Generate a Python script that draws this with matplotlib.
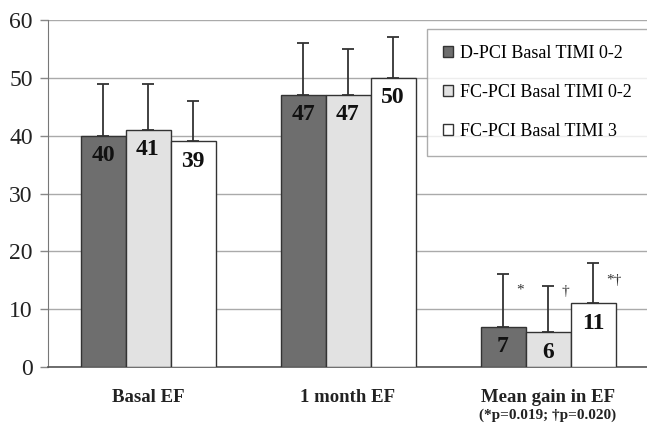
import matplotlib
matplotlib.use("Agg")
import matplotlib.pyplot as plt
import numpy as np

categories = ["Basal EF", "1 month EF", "Mean gain in EF"]
series_names = ["D-PCI Basal TIMI 0-2", "FC-PCI Basal TIMI 0-2", "FC-PCI Basal TIMI 3"]
values = {
    "D-PCI Basal TIMI 0-2": [40, 47, 7],
    "FC-PCI Basal TIMI 0-2": [41, 47, 6],
    "FC-PCI Basal TIMI 3": [39, 50, 11],
}
errors = {
    "D-PCI Basal TIMI 0-2": [9, 9, 9],
    "FC-PCI Basal TIMI 0-2": [8, 8, 8],
    "FC-PCI Basal TIMI 3": [7, 7, 7],
}
sig_marks = ["*", "\u2020", "*\u2020"]
sig_y = [13.3, 13.0, 15.0]
yticks = [0, 10, 20, 30, 40, 50, 60]
colors = ["#6e6e6e", "#e2e2e2", "#ffffff"]

plt.rcParams['font.family'] = ['Liberation Serif', 'DejaVu Serif']

W, H = 647, 429
fig = plt.figure(figsize=(W/100, H/100), dpi=100)
ax = fig.add_axes([48/W, 1-367/H, 600/W, 347/H])

x = np.arange(len(categories))
w = 0.225
offsets = [-w, 0, w]
for i, name in enumerate(series_names):
    vals = values[name]
    errs = errors[name]
    ax.bar(x + offsets[i], vals, w, color=colors[i], edgecolor="#333333",
           linewidth=1.0, zorder=3, label=name)
    ax.errorbar(x + offsets[i], vals, yerr=[np.zeros(len(vals)), errs], fmt="none",
                ecolor="#333333", elinewidth=1.3, capsize=4, capthick=1.3, zorder=2)
    for xi, v in zip(x + offsets[i], vals):
        ax.text(xi, v - 1.6, str(v), ha="center", va="top", fontsize=17,
                fontweight="bold", color="#111111", zorder=4)

# significance marks on the gain group
gx = x[2]
for i, m in enumerate(sig_marks):
    ax.text(gx + offsets[i] + w * 0.3, sig_y[i], m,
            ha="left", va="center", fontsize=11, color="#333333")

ax.set_xlim(-0.5, 2.5)
ax.set_ylim(0, 60)
ax.set_yticks(yticks)
ax.set_yticklabels([str(t) for t in yticks], fontsize=17, color="#222222")
ax.tick_params(axis="y", length=6, color="#888888", width=1, pad=5)
ax.set_xticks(x)
ax.set_xticklabels(categories, fontsize=13.5, fontweight="bold", color="#222222")
ax.tick_params(axis="x", length=0, pad=16)
ax.yaxis.grid(True, color="#aaaaaa", linewidth=1.0, zorder=0)
ax.set_axisbelow(True)
for s in ["top", "right"]:
    ax.spines[s].set_visible(False)
ax.spines["left"].set_color("#777777")
ax.spines["bottom"].set_color("#555555")
ax.spines["bottom"].set_linewidth(1.2)

ax.text(2, -8.4, "(*p=0.019; \u2020p=0.020)", ha="center", va="center",
        fontsize=11, fontweight="bold", color="#222222")

leg = fig.legend(loc="upper left", bbox_to_anchor=(427/W, 1-29/H), fontsize=13,
                 frameon=True, fancybox=False, edgecolor="#999999", handlelength=0.55,
                 handleheight=0.55, labelspacing=1.2, borderpad=0.9, handletextpad=0.35,
                 borderaxespad=0)
leg.get_frame().set_linewidth(1.0)

fig.savefig("out.png", dpi=100)
